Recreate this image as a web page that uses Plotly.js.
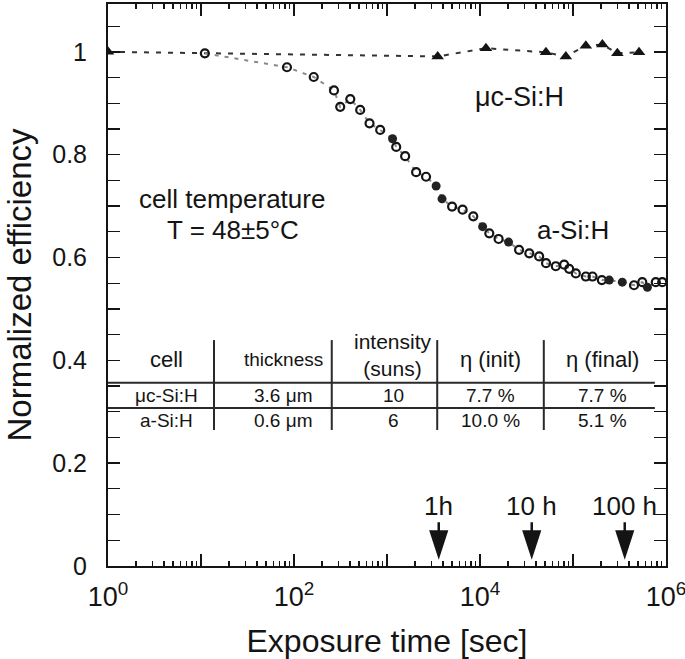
<!DOCTYPE html>
<html>
<head>
<meta charset="utf-8">
<script src="https://cdn.plot.ly/plotly-3.0.1.min.js"></script>
<style>html,body{margin:0;padding:0;background:#fff;}#chart{width:685px;height:659px;}</style>
</head>
<body>
<div id="chart"></div>
<script>
// ---- data ----
const aSiOpenX = [11, 84, 163, 269, 314, 403, 515, 649, 845, 1256, 1567, 2056, 2630, 5012, 6501, 8472, 12590, 15850, 26300, 33900, 43250, 51300, 65300, 80350, 91000, 107200, 137400, 162200, 204200, 452900, 555900, 776200, 912000];
const aSiOpenY = [0.997, 0.970, 0.951, 0.925, 0.893, 0.908, 0.887, 0.861, 0.848, 0.815, 0.797, 0.766, 0.757, 0.699, 0.693, 0.680, 0.647, 0.636, 0.615, 0.608, 0.602, 0.589, 0.583, 0.586, 0.578, 0.569, 0.563, 0.563, 0.556, 0.546, 0.552, 0.552, 0.552];
const aSiFilledX = [1148, 3373, 3908, 10670, 20280, 245500, 338800, 631000];
const aSiFilledY = [0.831, 0.739, 0.714, 0.660, 0.630, 0.556, 0.552, 0.542];
const mucX = [1, 3508, 11590, 51170, 83750, 137400, 207000, 300000, 512900];
const mucY = [1.000, 0.991, 1.007, 0.999, 0.991, 1.012, 1.014, 0.997, 0.999];
const arrowTimes = [3600, 36000, 360000];
const arrowLabels = ['1h', '10 h', '100 h'];
const xTickVals = [1, 100, 10000, 1000000];
const xTickText = ['10<sup>0</sup>', '10<sup>2</sup>', '10<sup>4</sup>', '10<sup>6</sup>'];
const xOddDecades = [10, 1000, 100000];
const yTickVals = [0, 0.2, 0.4, 0.6, 0.8, 1];
const yTickText = ['0', '0.2', '0.4', '0.6', '0.8', '1'];
const tableHeader = ['cell', 'thickness', 'intensity<br>(suns)', 'η (init)', 'η (final)'];
const tableRowMuc = ['μc-Si:H', '3.6 μm', '10', '7.7 %', '7.7 %'];
const tableRowA = ['a-Si:H', '0.6 μm', '6', '10.0 %', '5.1 %'];

// ---- build ----
const FONT = 'Liberation Sans, Arial, Helvetica, sans-serif';
const INK = '#141414';

const aSiAll = aSiOpenX.map((x, i) => [x, aSiOpenY[i]]).concat(aSiFilledX.map((x, i) => [x, aSiFilledY[i]])).sort((a, b) => a[0] - b[0]);

const minorX = [];
for (let d = 0; d < 6; d++) for (let k = 2; k <= 9; k++) minorX.push(k * Math.pow(10, d));

const traces = [
  {x: mucX, y: mucY, mode: 'lines', line: {color: '#333', width: 2, dash: '5px,7px'}, hoverinfo: 'skip', showlegend: false},
  {x: aSiAll.map(p => p[0]), y: aSiAll.map(p => p[1]), mode: 'lines', line: {color: '#8a8a8a', width: 2, dash: '4px,6px'}, hoverinfo: 'skip', showlegend: false},
  {x: aSiOpenX, y: aSiOpenY, mode: 'markers', marker: {symbol: 'circle-open', size: 8, color: INK, line: {width: 2.2, color: INK}}, showlegend: false},
  {x: aSiFilledX, y: aSiFilledY, mode: 'markers', marker: {symbol: 'circle', size: 9, color: '#222'}, showlegend: false},
  {x: mucX, y: mucY, mode: 'markers', marker: {symbol: 'triangle-up', size: 11, color: INK}, showlegend: false},
  {x: arrowTimes, y: arrowTimes.map(() => 0.012), mode: 'markers', marker: {symbol: 'arrow', angle: 180, size: 31, color: INK}, showlegend: false, hoverinfo: 'skip'},
  {x: [1, 1000000], y: [null, null], xaxis: 'x2', mode: 'lines', showlegend: false, hoverinfo: 'skip'}
];

function note(x, y, text, size, extra) {
  return Object.assign({x: x, y: y, xref: 'paper', yref: 'paper', xanchor: 'center', yanchor: 'middle', text: text, showarrow: false, font: {family: FONT, size: size, color: INK}}, extra || {});
}

const annotations = [];
arrowTimes.forEach((t, i) => {
  annotations.push({x: Math.log10(t), y: 0.045, xref: 'x', yref: 'y', xanchor: 'center', yanchor: 'middle', text: arrowLabels[i], showarrow: true, arrowhead: 0, arrowwidth: 2.5, arrowcolor: INK, ax: 0, ay: -37, standoff: 0, startstandoff: 0, font: {family: FONT, size: 26, color: INK}});
});
annotations.push(note(0.738, 0.835, 'μc-Si:H', 27));
annotations.push(note(0.833, 0.598, 'a-Si:H', 26));
annotations.push(note(0.222, 0.653, 'cell temperature', 26));
annotations.push(note(0.224, 0.598, 'T = 48±5°C', 26));

const colX = [0.104, 0.314, 0.511, 0.685, 0.887];
const headerSizes = [22, 19, 21, 22, 22];
tableHeader.forEach((h, i) => {
  annotations.push(note(colX[i], i === 2 ? 0.376 : 0.367, h, headerSizes[i]));
});
tableRowMuc.forEach((v, i) => {
  annotations.push(note(colX[i], 0.304, v, 19));
});
tableRowA.forEach((v, i) => {
  annotations.push(note(colX[i], 0.259, v, 19));
});

const shapes = [];
[0.190, 0.401, 0.590, 0.781].forEach(xp => {
  shapes.push({type: 'line', xref: 'paper', yref: 'paper', x0: xp, x1: xp, y0: 0.242, y1: 0.402, line: {color: '#2a2a2a', width: 2}});
});
[0.326, 0.281].forEach(yp => {
  shapes.push({type: 'line', xref: 'paper', yref: 'paper', x0: 0, x1: 0.980, y0: yp, y1: yp, line: {color: '#2a2a2a', width: 2}});
});

const layout = {
  width: 685, height: 659,
  margin: {l: 108, r: 19, t: 4, b: 93},
  paper_bgcolor: '#fff', plot_bgcolor: '#fff',
  font: {family: FONT, color: INK},
  showlegend: false,
  xaxis: {
    type: 'log', range: [0, 6],
    tickmode: 'array', tickvals: xTickVals, ticktext: xTickText,
    ticks: 'inside', ticklen: 12, tickwidth: 1.5, tickcolor: INK,
    minor: {tickmode: 'array', tickvals: minorX, ticks: 'inside', ticklen: 5, tickwidth: 1.2, tickcolor: INK, showgrid: false},
    showline: true, linecolor: INK, linewidth: 2, mirror: 'allticks',
    showgrid: false, zeroline: false,
    tickfont: {family: FONT, size: 27, color: INK},
    ticklabelstandoff: 6, ticklabeloverflow: 'allow',
    title: {text: 'Exposure time [sec]', font: {family: FONT, size: 32, color: INK}}
  },
  xaxis2: {
    type: 'log', range: [0, 6], overlaying: 'x', anchor: 'y',
    tickmode: 'array', tickvals: xOddDecades, showticklabels: false,
    ticks: 'inside', ticklen: 12, tickwidth: 1.5, tickcolor: INK,
    showline: false, mirror: 'allticks', showgrid: false, zeroline: false
  },
  yaxis: {
    range: [0, 1.093],
    tickmode: 'array', tickvals: yTickVals, ticktext: yTickText,
    ticks: 'inside', ticklen: 12, tickwidth: 1.5, tickcolor: INK,
    minor: {dtick: 0.05, tick0: 0, ticks: 'inside', ticklen: 6, tickwidth: 1.2, tickcolor: INK, showgrid: false},
    showline: true, linecolor: INK, linewidth: 2, mirror: 'allticks',
    showgrid: false, zeroline: false,
    tickfont: {family: FONT, size: 25, color: INK},
    ticklabelstandoff: 14, ticklabeloverflow: 'allow',
    title: {text: 'Normalized efficiency', font: {family: FONT, size: 33, color: INK}}
  },
  annotations: annotations,
  shapes: shapes
};

Plotly.newPlot('chart', traces, layout, {displayModeBar: false, staticPlot: true});
</script>
</body>
</html>
